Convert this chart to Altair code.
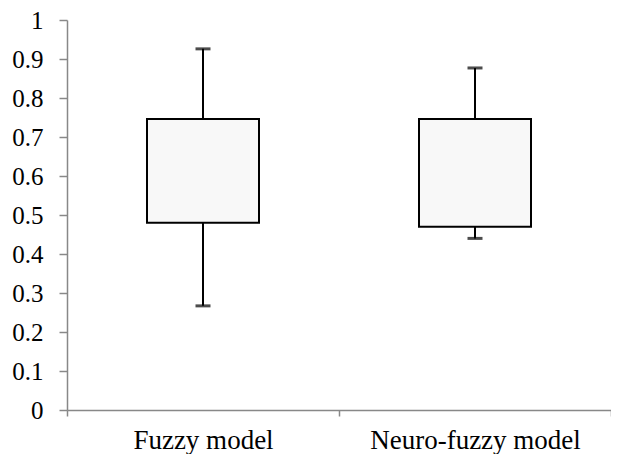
import altair as alt
import pandas as pd

categories = ["Fuzzy model", "Neuro-fuzzy model"]
mins = [0.267, 0.440]
q1s = [0.480, 0.470]
q3s = [0.746, 0.746]
maxs = [0.926, 0.877]

df = pd.DataFrame({"cat": categories, "min": mins, "q1": q1s, "q3": q3s, "max": maxs})

xenc = alt.X("cat:N", sort=categories, title=None,
             scale=alt.Scale(paddingInner=0, paddingOuter=0),
             axis=alt.Axis(labelAngle=0, labelFont="Liberation Serif", labelFontSize=27,
                           labelColor="black", labelBaseline="alphabetic", labelPadding=32,
                           labelLimit=0, tickSize=6, tickBand="extent", domainColor="#888888",
                           tickColor="#888888", domainWidth=1.5, tickWidth=1.5, grid=False))
yscale = alt.Scale(domain=[0, 1], nice=False)
yaxis = alt.Axis(values=[i / 10 for i in range(11)], format=".1~f", title=None,
                 labelFont="Liberation Serif", labelFontSize=25, labelColor="black",
                 tickSize=8, labelPadding=16, domainColor="#888888", tickColor="#888888",
                 domainWidth=1.5, tickWidth=1.5, grid=False)

base = alt.Chart(df)

upper = base.mark_rule(color="black", strokeWidth=2).encode(
    x=xenc, y=alt.Y("q3:Q", scale=yscale, axis=yaxis), y2="max:Q")
lower = base.mark_rule(color="black", strokeWidth=2).encode(
    x=xenc, y=alt.Y("min:Q", scale=yscale, axis=yaxis), y2="q1:Q")
box = base.mark_bar(size=112, fill="#f8f8f8", stroke="black", strokeWidth=2).encode(
    x=xenc, y=alt.Y("q1:Q", scale=yscale, axis=yaxis), y2="q3:Q")
capTop = base.mark_tick(color="black", size=15, thickness=3).encode(
    x=xenc, y=alt.Y("max:Q", scale=yscale, axis=yaxis))
capBot = base.mark_tick(color="black", size=15, thickness=3).encode(
    x=xenc, y=alt.Y("min:Q", scale=yscale, axis=yaxis))

chart = alt.layer(upper, lower, box, capTop, capBot).properties(
    width=544, height=390,
    autosize=alt.AutoSizeParams(type="none"),
    padding={"left": 59, "top": 12, "right": 0, "bottom": 44},
).configure_view(stroke=None)

chart.save("out.html", embed_options={"renderer": "svg", "actions": False})
